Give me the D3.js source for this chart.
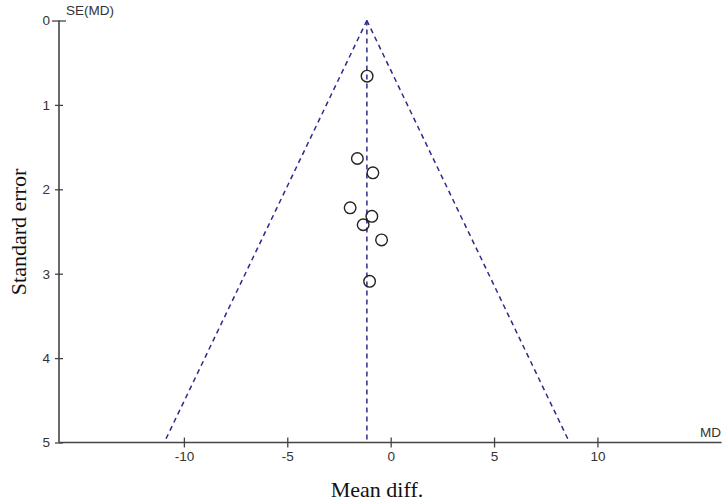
<!DOCTYPE html>
<html>
<head>
<meta charset="utf-8">
<script src="https://cdn.jsdelivr.net/npm/d3@7"></script>
<style>
body{margin:0;background:#fff;}
svg{display:block;}
</style>
</head>
<body>
<svg id="chart" width="726" height="503"></svg>
<script>
// Data
const studyMD = [-1.14, -1.61, -0.86, -1.96, -0.91, -1.33, -0.44, -1.02];
const studySE = [0.66, 1.635, 1.805, 2.22, 2.32, 2.42, 2.60, 3.09];
const pooledMD = -1.15;
const xTicks = [-10, -5, 0, 5, 10];
const yTicks = [0, 1, 2, 3, 4, 5];
const xDomain = [-16.04, 16.0];
const yDomain = [0, 5];

const svg = d3.select("#chart");
const x = d3.scaleLinear().domain(xDomain).range([59, 721.5]);
const y = d3.scaleLinear().domain(yDomain).range([20.5, 442.5]);

const axisColor = "#444";
const dashColor = "#2b2b8c";
const fmt = d => String(d);
const smallFont = "13.5px";

// funnel lines
const funnel = [
  [[pooledMD, 0], [pooledMD - 1.96 * 5, 5]],
  [[pooledMD, 0], [pooledMD + 1.96 * 5, 5]],
  [[pooledMD, 0], [pooledMD, 5]]
];
const line = d3.line().x(d => x(d[0])).y(d => y(d[1]));
svg.append("g").selectAll("path").data(funnel).join("path")
  .attr("d", line)
  .attr("fill", "none")
  .attr("stroke", dashColor)
  .attr("stroke-width", 1.5)
  .attr("stroke-dasharray", "5,4");

// y axis
const yAxis = d3.axisLeft(y).tickValues(yTicks).tickFormat(fmt).tickSize(4);
const gy = svg.append("g").attr("transform", `translate(${x(xDomain[0])},0)`).call(yAxis);
gy.select(".domain").attr("stroke", axisColor).attr("stroke-width", 1.6).attr("d", `M0,${y(0)}V${y(5)}`);
gy.selectAll(".tick line").attr("stroke", axisColor).attr("stroke-width", 1.3).attr("x1", 4).attr("x2", -4);
gy.selectAll(".tick text").attr("x", -9).attr("fill", "#333")
  .style("font-family", "Liberation Sans, Arial, sans-serif").style("font-size", smallFont);
gy.selectAll(".tick").filter(d => d === 0).select("line").attr("x1", 7).attr("x2", -7);

// x axis
const xAxis = d3.axisBottom(x).tickValues(xTicks).tickFormat(fmt).tickSize(5);
const gx = svg.append("g").attr("transform", `translate(0,${y(5)})`).call(xAxis);
gx.select(".domain").attr("stroke", axisColor).attr("stroke-width", 1.6).attr("d", `M${x(xDomain[0])},0H${x(xDomain[1])}`);
gx.selectAll(".tick line").attr("stroke", axisColor).attr("stroke-width", 1.3).attr("y1", -5).attr("y2", 5);
gx.selectAll(".tick text").attr("y", 9).attr("fill", "#333")
  .style("font-family", "Liberation Sans, Arial, sans-serif").style("font-size", smallFont);

// points
const pts = studyMD.map((m, i) => ({md: m, se: studySE[i]}));
svg.append("g").selectAll("circle").data(pts).join("circle")
  .attr("cx", d => x(d.md))
  .attr("cy", d => y(d.se))
  .attr("r", 5.8)
  .attr("fill", "none")
  .attr("stroke", "#222")
  .attr("stroke-width", 1.4);

// small labels
svg.append("text").attr("x", 66).attr("y", 15).text("SE(MD)")
  .attr("fill", "#333").style("font-family", "Liberation Sans, Arial, sans-serif").style("font-size", smallFont);
svg.append("text").attr("x", 721).attr("y", 437).attr("text-anchor", "end").text("MD")
  .attr("fill", "#333").style("font-family", "Liberation Sans, Arial, sans-serif").style("font-size", smallFont);

// axis titles
svg.append("text").attr("x", 377).attr("y", 497).attr("text-anchor", "middle").text("Mean diff.")
  .attr("fill", "#111").style("font-family", "Liberation Serif, Times New Roman, serif").style("font-size", "22px");
svg.append("text").attr("transform", "translate(26,232) rotate(-90)").attr("text-anchor", "middle").text("Standard error")
  .attr("fill", "#111").style("font-family", "Liberation Serif, Times New Roman, serif").style("font-size", "22px");
</script>
</body>
</html>
